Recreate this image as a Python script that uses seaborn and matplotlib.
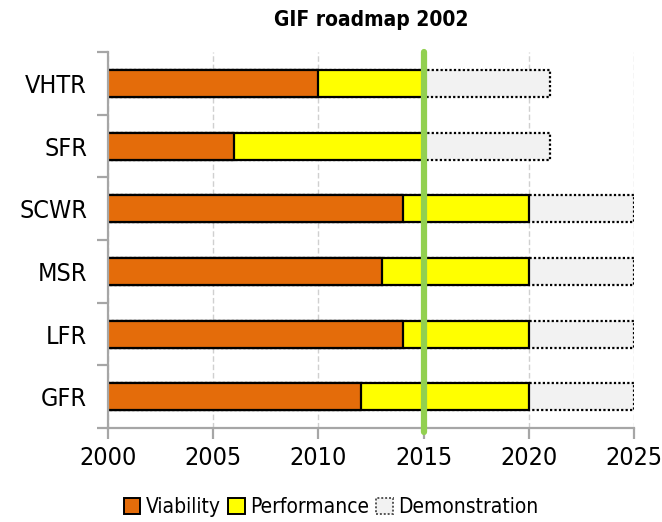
import matplotlib
matplotlib.use("Agg")
import matplotlib.pyplot as plt
from matplotlib.patches import Patch
import seaborn as sns
import pandas as pd

# Generation IV systems and the year each R&D phase ends
reactors = ["VHTR", "SFR", "SCWR", "MSR", "LFR", "GFR"]
viability_end = [2010, 2006, 2014, 2013, 2014, 2012]
performance_end = [2015, 2015, 2020, 2020, 2020, 2020]
demonstration_end = [2021, 2021, 2025, 2025, 2025, 2025]
phases = ["Viability", "Performance", "Demonstration"]
year_ticks = [2000, 2005, 2010, 2015, 2020, 2025]
roadmap_year = 2015

df = pd.DataFrame({
    "reactor": reactors,
    "Viability": viability_end,
    "Performance": performance_end,
    "Demonstration": demonstration_end,
})

sns.set_theme(style="white")
plt.rcParams["font.family"] = ["DejaVu Sans", "Liberation Sans"]
plt.rcParams["font.stretch"] = "condensed"
plt.rcParams["text.color"] = "black"
plt.rcParams["xtick.labelcolor"] = "black"
plt.rcParams["ytick.labelcolor"] = "black"

fig = plt.figure(figsize=(6.62, 5.22), dpi=100)
ax = fig.add_axes([0.163, 0.180, 0.795, 0.720])

colors = {"Viability": "#E46C0A", "Performance": "#FFFF00", "Demonstration": "#F2F2F2"}
styles = {"Viability": "-", "Performance": "-", "Demonstration": (0, (1, 1))}

# later phases first, earlier phases painted over them
for phase in reversed(phases):
    sns.barplot(data=df, y="reactor", x=phase, orient="h", ax=ax,
                color=colors[phase], saturation=1, width=0.43,
                edgecolor="black", linewidth=1.6, linestyle=styles[phase],
                zorder=3)

ax.set_xlim(year_ticks[0], year_ticks[-1])
ax.set_ylim(len(reactors) - 0.5, -0.5)
ax.set_xticks(year_ticks)
ax.set_xticklabels([str(y) for y in year_ticks])
ax.set_xlabel("")
ax.set_ylabel("")

# category separators as tick marks on the y axis
ax.set_yticks([i - 0.5 for i in range(len(reactors) + 1)], minor=True)
ax.tick_params(axis="y", which="major", length=0, labelsize=18, pad=15)
ax.tick_params(axis="y", which="minor", length=8, width=1.6, color="#A6A6A6", direction="out", left=True)
ax.tick_params(axis="x", which="major", length=8, width=1.6, color="#A6A6A6", direction="out",
               bottom=True, labelsize=18, pad=5)

ax.grid(axis="x", color="#D0D0D0", linestyle=(0, (4, 2)), linewidth=1.0, zorder=0)
ax.grid(axis="y", visible=False)

for side in ["top", "right"]:
    ax.spines[side].set_visible(False)
for side in ["left", "bottom"]:
    ax.spines[side].set_color("#A6A6A6")
    ax.spines[side].set_linewidth(1.6)
    ax.spines[side].set_zorder(4)

ax.axvline(roadmap_year, ymin=-0.01, ymax=1.0, color="#92D050", linewidth=4.5,
           zorder=5, clip_on=False)

ax.set_title("GIF roadmap 2002", fontsize=15, fontweight="bold", pad=19)

handles = [Patch(facecolor=colors[p], edgecolor="black" if p != "Demonstration" else "#555555",
                 linewidth=1.4, linestyle=styles[p]) for p in phases]
fig.legend(handles, phases, loc="center", bbox_to_anchor=(0.5, 0.028), ncol=3,
           frameon=False, fontsize=15, handlelength=0.8, handleheight=0.85,
           handletextpad=0.25, columnspacing=0.35)

fig.savefig("out.png", dpi=100)
